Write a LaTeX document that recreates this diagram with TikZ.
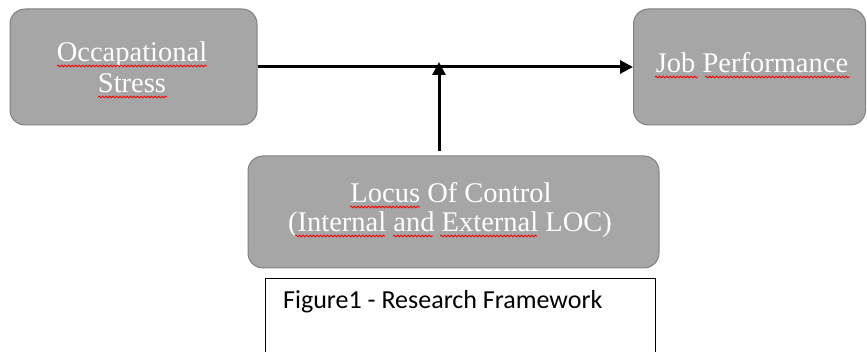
\documentclass[tikz,border=0pt]{standalone}
\usepackage{fontspec}
\setmainfont{Liberation Serif}
\newfontfamily\capfont{Carlito}
\usetikzlibrary{arrows.meta,decorations.pathmorphing}
\tikzset{
  graybox/.style={draw=black!50, line width=1pt, fill=black!35, rounded corners=15pt, inner sep=0pt},
  boxtext/.style={text=white, font=\fontsize{28.5}{32}\selectfont, anchor=base, inner sep=0pt},
  conn/.style={line width=3pt, -{Triangle[length=13pt,width=13pt]}},
  squig/.style={draw=red, line width=0.8pt, decorate,
    decoration={snake, amplitude=0.9pt, segment length=3.5pt}},
}
\begin{document}
\begin{tikzpicture}[x=1pt,y=-1pt]
\useasboundingbox (0,0) rectangle (867,352);
\clip (0,0) rectangle (867,352);
\fill[white] (0,0) rectangle (867,352);
\node[graybox, minimum width=247pt, minimum height=116pt] (stress) at (133.5,67) {};
\node[graybox, minimum width=232pt, minimum height=116pt] (job) at (749.5,67) {};
\node[graybox, minimum width=411pt, minimum height=112pt] (loc) at (453.5,212) {};
% texts
\node[boxtext] (t1) at (132,62) {Occapational};
\node[boxtext] (t2) at (132,93) {Stress};
\node[boxtext] (t3) at (752,73) {Job Performance};
\node[boxtext] (t4) at (451,203) {Locus Of Control};
\node[boxtext] (t5) at (450,232) {(Internal and External LOC)};
% spell-check squiggles
\draw[squig] (57,66) -- (207,66);
\draw[squig] (98,97) -- (167,97);
\draw[squig] (655,77) -- (698,77);
\draw[squig] (705,77) -- (850,77);
\draw[squig] (350,207) -- (420,207);
\draw[squig] (295,236) -- (385,236);
\draw[squig] (393,236) -- (433,236);
\draw[squig] (440,236) -- (537,236);
% connectors
\coordinate (mid) at (439,67);
\draw[conn] (stress.east) -- (job.west);
\draw[conn] (loc.north -| mid) ++(0,-4) -- ([yshift=5pt]mid);
% caption
\node[draw=black, line width=1pt, minimum width=390pt, minimum height=90pt, anchor=north west, inner sep=0pt] (capbox) at (265,278) {};
\node[font=\capfont\fontsize{26}{30}\selectfont, anchor=base west, inner sep=0pt] (cap) at (283,309) {Figure1 - Research Framework};
\end{tikzpicture}
\end{document}
